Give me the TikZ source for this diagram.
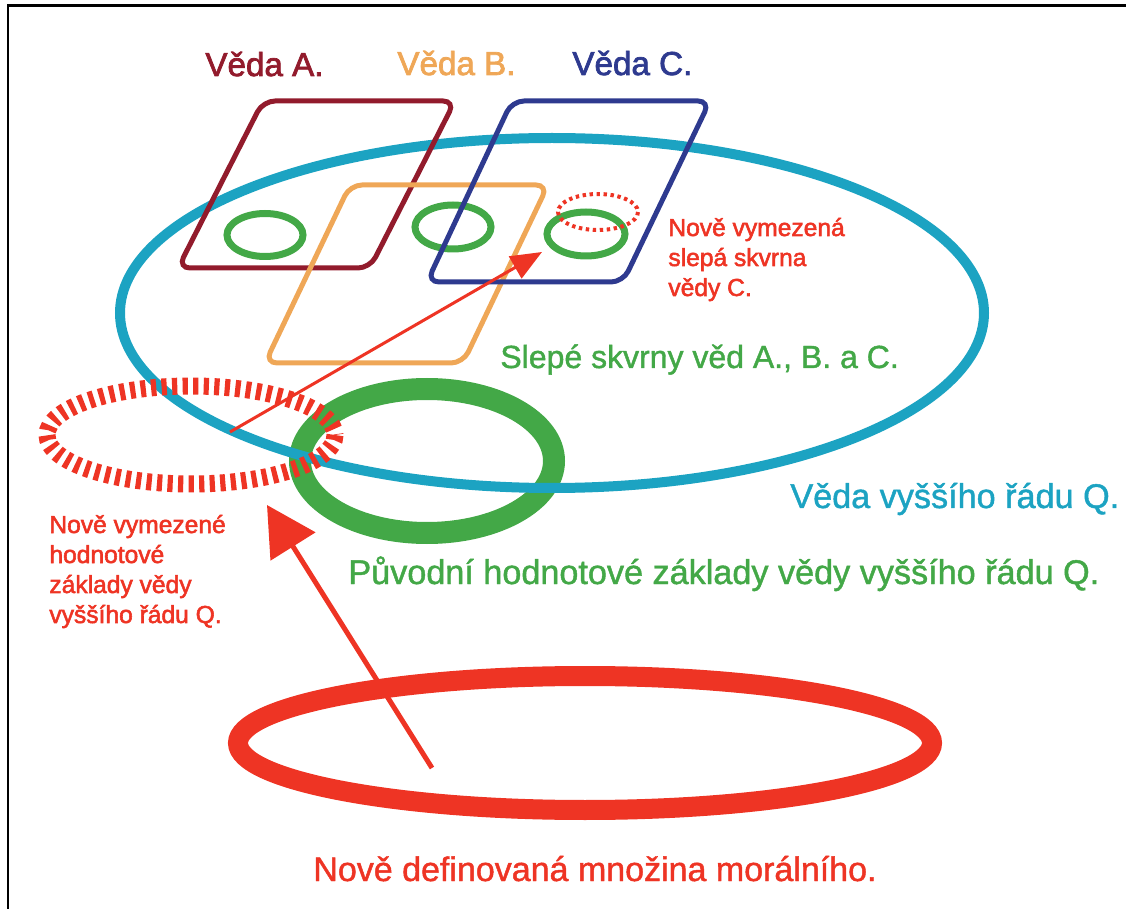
\documentclass[tikz,border=0pt]{standalone}
\usepackage{fontspec}
\setmainfont{Liberation Sans}
\newfontfamily\heavysf{Liberation Sans}[FakeBold=1.3]
\newfontfamily\heaviersf{Liberation Sans}[FakeBold=2.2]
\usetikzlibrary{arrows.meta}
\definecolor{scia}{HTML}{921B2C}
\definecolor{scib}{HTML}{EFA757}
\definecolor{scic}{HTML}{2E3A8F}
\definecolor{qblue}{HTML}{1CA3C2}
\definecolor{spotgreen}{HTML}{43A847}
\definecolor{newred}{HTML}{EE3424}
\def\fsz#1{\heavysf\fontsize{#1pt}{15pt}\selectfont}
\def\fszb#1{\heaviersf\fontsize{#1pt}{15pt}\selectfont}

\begin{document}
\begin{tikzpicture}[x=0.5pt, y=-0.5pt,
    sci/.style={line width=2.5pt, rounded corners=6pt},
    spot/.style={spotgreen, line width=3.5pt},
    txt/.style={inner sep=0pt, anchor=base west}]
    \useasboundingbox (0, 0) rectangle (1126, 909);
    \draw[line width=1.4pt] (8, 909) -- (8, 5.5) -- (1126, 5.5);
    \draw[spotgreen, line width=11pt] (427, 461) ellipse (127 and 72);
    \draw[qblue, line width=5pt] (552, 313) ellipse (432 and 175);
    \draw[spot] (265, 235) ellipse (38 and 21.5);
    \draw[spot] (453, 227) ellipse (38 and 22);
    \draw[spot] (586, 234) ellipse (39 and 22);
    \draw[sci, scia] (178, 268) -- (370, 268) -- (455, 101) -- (263, 101) -- cycle;
    \draw[sci, scib] (265, 363) -- (463, 363) -- (548, 185) -- (350, 185) -- cycle;
    \draw[sci, scic] (427, 282) -- (623, 282) -- (710, 101) -- (512, 101) -- cycle;
    \draw[newred, line width=2pt, dash pattern=on 1.7pt off 1.8pt] (598, 212) ellipse (40 and 18);
    \draw[newred, line width=8.5pt, dash pattern=on 2.6pt off 2.67pt] (191, 435) ellipse (144 and 49);
    \draw[newred, line width=10pt] (585, 743) ellipse (347 and 67);
    \coordinate (qfrom) at (230, 432);
    \coordinate (qto) at (542, 252);
    \draw[newred, line width=1.5pt, -{Triangle[length=15.5pt, width=12.5pt]}] (qfrom) -- (qto);
    \coordinate (mfrom) at (432, 768);
    \coordinate (mto) at (267, 505);
    \draw[newred, line width=2.5pt, -{Triangle[length=24.5pt, width=26pt]}] (mfrom) -- (mto);
    \node[txt, scia, font=\fszb{16.6}] (veda-a) at (205, 76) {Věda A.};
    \node[txt, scib, font=\fszb{16.6}] (veda-b) at (397, 75) {Věda B.};
    \node[txt, scic, font=\fszb{16.6}] (veda-c) at (572, 75) {Věda C.};
    \node[txt, newred, font=\fszb{12.3}, align=left] (blind-c) at (668, 296) {Nově vymezená\\slepá skvrna\\vědy C.};
    \node[txt, spotgreen, font=\fsz{16}] (spots) at (500, 368) {Slepé skvrny věd A., B. a C.};
    \node[txt, qblue, font=\fsz{17.1}] (veda-q) at (790, 508) {Věda vyššího řádu Q.};
    \node[txt, newred, font=\fszb{12.3}, align=left] (base-new) at (49, 623) {Nově vymezené\\hodnotové\\základy vědy\\vyššího řádu Q.};
    \node[txt, spotgreen, font=\fsz{17.1}] (base-old) at (348, 584) {Původní hodnotové základy vědy vyššího řádu Q.};
    \node[txt, newred, font=\fsz{17}] (moral) at (313, 881) {Nově definovaná množina morálního.};
\end{tikzpicture}
\end{document}
